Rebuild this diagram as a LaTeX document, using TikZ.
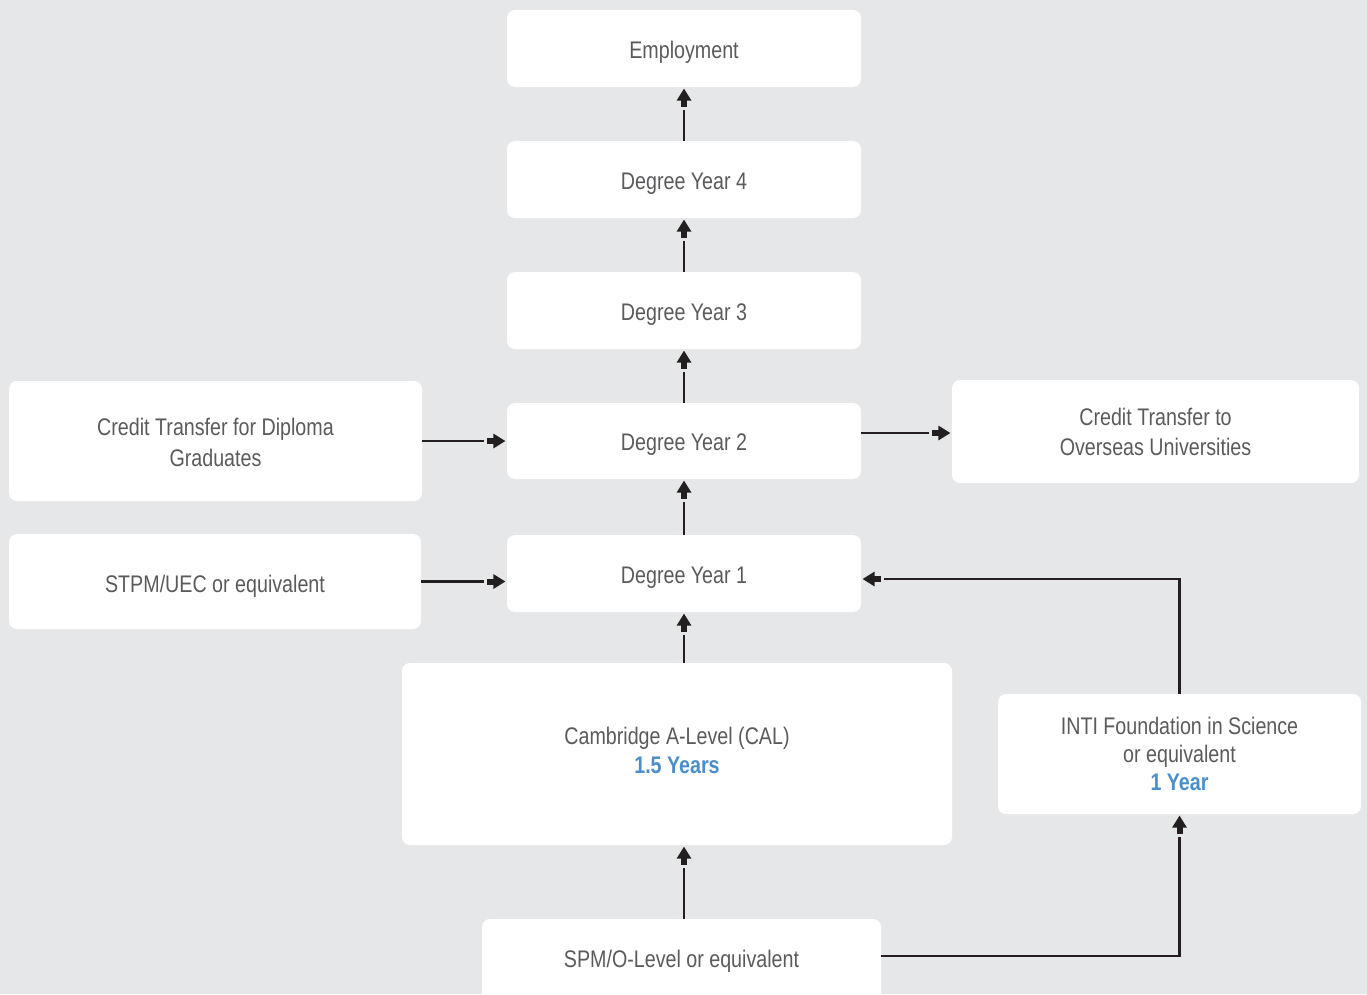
\documentclass[tikz,border=0pt]{standalone}
\usepackage{fontspec}
\setmainfont{Liberation Sans}[FakeStretch=0.82]
\usetikzlibrary{decorations.markings}
\definecolor{bg}{HTML}{E6E7E9}
\definecolor{txt}{HTML}{5A5B5D}
\definecolor{accent}{HTML}{4A8FCB}
\definecolor{wire}{HTML}{231F20}
\tikzset{
  card/.style={fill=white, rounded corners=8pt, text=txt, align=center,
    inner sep=0pt, font=\fontsize{24}{30}\selectfont},
  oneline/.style={text height=19pt, text depth=0pt},
  % line stops short, then a stemmed arrowhead sits at the end
  link/.style={draw=wire, line width=2.6pt, shorten >=22.5pt,
    postaction={decorate, decoration={markings,
      mark=at position -1.5pt with {
        \fill[wire] (0pt,0pt) -- (-12pt,7.5pt) -- (-12pt,-7.5pt) -- cycle;
        \fill[wire] (-11.5pt,-3pt) rectangle (-18pt,3pt);
      }}}}
}
\newcommand{\hilite}[1]{{\bfseries\color{accent}#1}}
\begin{document}
\begin{tikzpicture}[x=1pt,y=-1pt]
  \useasboundingbox (0,0) rectangle (1367,994);
  \clip (0,0) rectangle (1367,994);
  \fill[bg] (0,0) rectangle (1367,994);

  % main degree column
  \node[card, oneline, minimum width=354pt, minimum height=77pt] (emp) at (684,48.5) {Employment};
  \node[card, oneline, minimum width=354pt, minimum height=77pt] (dy4) at (684,179.5) {Degree Year 4};
  \node[card, oneline, minimum width=354pt, minimum height=77pt] (dy3) at (684,310.5) {Degree Year 3};
  \node[card, oneline, minimum width=354pt, minimum height=76pt] (dy2) at (684,441) {Degree Year 2};
  \node[card, oneline, minimum width=354pt, minimum height=77pt] (dy1) at (684,573.5) {Degree Year 1};

  % side entries and exits
  \node[card, minimum width=413pt, minimum height=120pt] (dip) at (215.5,441)
    {\rule{0pt}{20pt}Credit Transfer for Diploma\\[1pt]Graduates};
  \node[card, oneline, text height=22pt, minimum width=412pt, minimum height=95pt] (stpm) at (215,581.5)
    {STPM/UEC or equivalent};
  \node[card, minimum width=407pt, minimum height=103pt] (over) at (1155.5,431.5)
    {Credit Transfer to\\Overseas Universities};

  % pre-university programmes
  \node[card, minimum width=550pt, minimum height=182pt] (cal) at (677,754)
    {Cambridge A-Level (CAL)\\[-1pt]\hilite{1.5 Years}\rule[-8pt]{0pt}{8pt}};
  \node[card, minimum width=363pt, minimum height=120pt] (inti) at (1179.5,754)
    {INTI Foundation in Science\\[-2pt]or equivalent\\[-2pt]\hilite{1 Year}};
  \node[card, minimum width=399pt, minimum height=84pt] (spm) at (681.5,961)
    {SPM/O-Level or equivalent};

  % progression arrows
  \draw[link] (dy4.north) -- (emp.south);
  \draw[link] (dy3.north) -- (dy4.south);
  \draw[link] (dy2.north) -- (dy3.south);
  \draw[link] (dy1.north) -- (dy2.south);
  \draw[link] (cal.north -| dy1.south) -- (dy1.south);
  \draw[link] (spm.north -| dy1.south) -- (cal.south -| dy1.south);
  \draw[link] (dip.east) -- (dip.east -| dy2.west);
  \draw[link] (stpm.east) -- (stpm.east -| dy1.west);
  \draw[link] ([yshift=-1.5pt]dy2.east |- over.west) -- ([yshift=-1.5pt]over.west);
  \draw[link] (inti.north) |- ([yshift=-5.5pt]dy1.east);
  \draw[link] ([yshift=5pt]spm.east) -| (inti.south);
\end{tikzpicture}
\end{document}
